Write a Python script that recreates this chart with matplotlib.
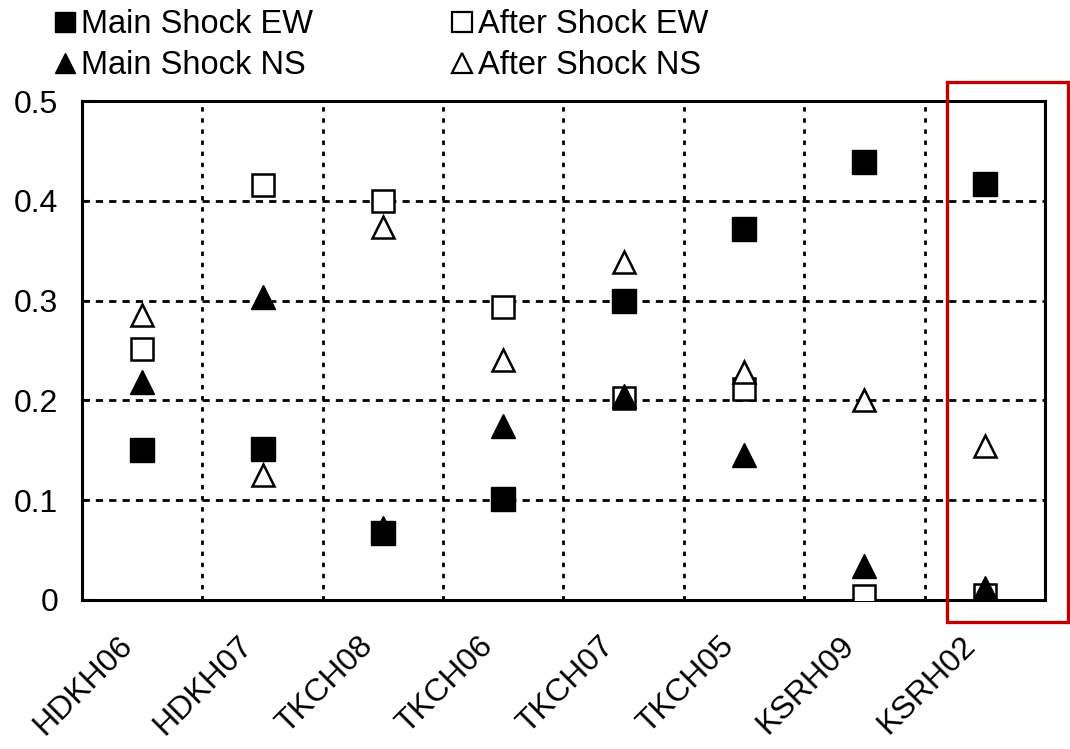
"""
Peak ratio per station: main shock vs after shock, EW and NS components
- values read off the original figure
"""

import numpy as np
import matplotlib
matplotlib.use('Agg')
import matplotlib.pyplot as plt
import matplotlib.transforms as mtrans
from matplotlib.lines import Line2D
from matplotlib.patches import Rectangle

plt.rcParams['font.family'] = ['Liberation Sans', 'DejaVu Sans']

#=================================================================
# Data

stations = ['HDKH06', 'HDKH07', 'TKCH08', 'TKCH06', 'TKCH07', 'TKCH05', 'KSRH09', 'KSRH02']

main_ew = [0.150, 0.151, 0.067, 0.101, 0.300, 0.372, 0.439, 0.417]
after_ew = [0.252, 0.416, 0.400, 0.294, 0.202, 0.211, 0.004, 0.005]
main_ns = [0.218, 0.304, 0.072, 0.174, 0.204, 0.145, 0.034, 0.012]
after_ns = [0.286, 0.125, 0.374, 0.241, 0.339, 0.228, 0.200, 0.154]

yticks = [0, 0.1, 0.2, 0.3, 0.4, 0.5]
yticklabels = ['0', '0.1', '0.2', '0.3', '0.4', '0.5']

#=================================================================
# Figure

mydpi = 100
fig = plt.figure(figsize=(1070/mydpi, 749/mydpi), dpi=mydpi)
ax = fig.add_axes([0.0766, 0.199, 0.9, 0.666])

x = np.arange(1, len(stations)+1)

ms = 17
mew = 1.8
ax.plot(x, main_ew, 's', color='black', ms=ms, zorder=3, label='Main Shock EW')
ax.plot(x, after_ew, 's', mfc='white', mec='black', mew=mew, ms=ms-1, zorder=3,
        label='After Shock EW')
ax.plot(x, main_ns, '^', color='black', ms=ms, zorder=4, label='Main Shock NS')
ax.plot(x, after_ns, '^', mfc='white', mec='black', mew=mew, ms=ms-1, zorder=4,
        label='After Shock NS')

ax.set_xlim(0.5, len(stations)+0.5)
ax.set_ylim(0, 0.5)

# dotted grid: short dots between categories, short dashes at y ticks
for xv in np.arange(1.5, len(stations), 1.0):
    ax.axvline(xv, color='black', lw=2.0, ls=(0, (1.6, 2.4)), zorder=1)
for yv in yticks[1:-1]:
    ax.axhline(yv, color='black', lw=2.0, ls=(0, (2.6, 2.2)), zorder=1)

ax.set_yticks(yticks)
ax.set_yticklabels(yticklabels, fontsize=23)
ax.set_xticks(x)
ax.set_xticklabels(stations, fontsize=23, rotation=45, ha='right',
                   rotation_mode='anchor')
ax.tick_params(axis='x', length=0, pad=22)
ax.tick_params(axis='y', length=6, direction='in', width=1.5, pad=17)

# nudge the rotated station names a little to the left
shift = mtrans.ScaledTranslation(-18/72, 0, fig.dpi_scale_trans)
for lab in ax.get_xticklabels():
    lab.set_transform(lab.get_transform() + shift)

for sp in ax.spines.values():
    sp.set_linewidth(2.2)

# red highlight box around the last station
ax.add_patch(Rectangle((7.69, -0.022), 1.0, 0.541, fill=False,
                       edgecolor='#c00000', lw=2.4, clip_on=False, zorder=5))

#-----------------
# Legend above the axes (column-wise fill)

handles = [
    Line2D([], [], ls='none', marker='s', color='black', ms=14),
    Line2D([], [], ls='none', marker='^', color='black', ms=15),
    Line2D([], [], ls='none', marker='s', mfc='white', mec='black', mew=1.6, ms=14),
    Line2D([], [], ls='none', marker='^', mfc='white', mec='black', mew=1.6, ms=15),
]
labels = ['Main Shock EW', 'Main Shock NS', 'After Shock EW', 'After Shock NS']
fig.legend(handles, labels, loc='upper left', bbox_to_anchor=(0.038, 1.005),
           ncol=2, frameon=False, fontsize=23.5, handlelength=0.72,
           handletextpad=0.12, columnspacing=4.2, labelspacing=0.3,
           borderaxespad=0)

plt.savefig('out.png', dpi=mydpi)
